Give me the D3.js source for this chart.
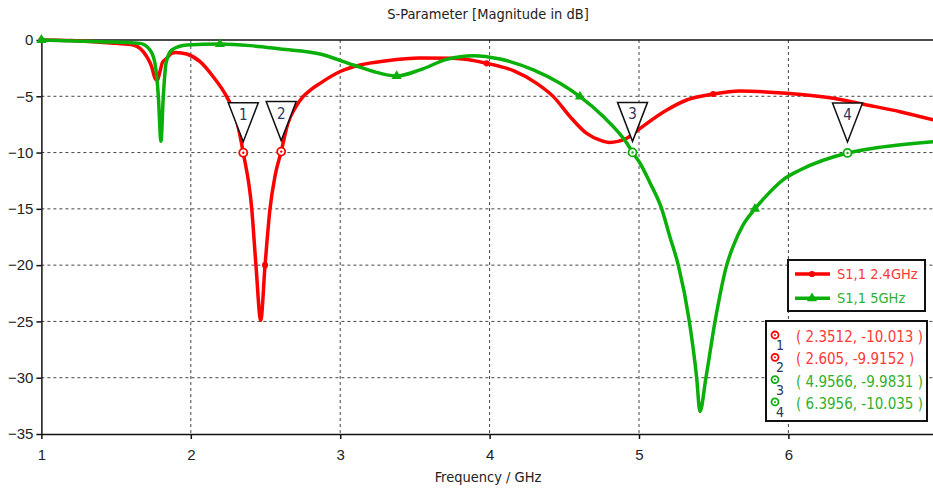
<!DOCTYPE html>
<meta charset="utf-8">
<style>

html, body {
  margin: 0;
  padding: 0;
  background: #fff;
}

svg {
  display: block;
  font-family: Tahoma, "DejaVu Sans Condensed", "DejaVu Sans", sans-serif;
}

.grid line {
  stroke: #444;
  stroke-width: 1px;
  stroke-dasharray: 3,3;
}

.axis path, .axis line {
  stroke: #111;
  stroke-width: 1.5px;
}

.axis text {
  font-size: 15px;
  fill: #222;
}

.curve {
  fill: none;
  stroke-width: 3.5px;
  stroke-linejoin: round;
  stroke-linecap: round;
}

</style>
<svg class="chart"></svg>
<script src="https://d3js.org/d3.v7.min.js"></script>
<script>

var width = 933;
var height = 489;

// S1,1 2.4GHz
var redFreq = [1.0, 1.2, 1.39, 1.5, 1.615, 1.705, 1.738, 1.76, 1.775, 1.79, 1.81, 1.839, 1.87, 1.9, 1.973,
  2.062, 2.15, 2.24, 2.3, 2.351, 2.408, 2.436, 2.468, 2.497, 2.53, 2.565, 2.605, 2.65, 2.7, 2.75, 2.8,
  2.865, 3.0, 3.133, 3.311, 3.534, 3.757, 3.98, 4.159, 4.315, 4.427, 4.538, 4.65, 4.739, 4.8,
  4.918, 5.007, 5.186, 5.319, 5.497, 5.676, 5.988, 6.3, 6.524, 6.747, 6.97];
var redDb = [0, -0.05, -0.2, -0.3, -0.44, -1.48, -2.37, -3.4, -3.6, -3.0, -2.0, -1.63, -1.2, -1.1, -1.24,
  -1.92, -3.26, -5.03, -6.8, -10.013, -15, -20, -24.9, -20, -15, -12, -9.915, -7.4, -6.0, -5.05, -4.45,
  -3.85, -2.8, -2.22, -1.84, -1.6, -1.63, -2.07, -2.73, -3.85, -5.03, -6.8, -8.3, -8.9, -9.1,
  -8.73, -7.85, -6.22, -5.33, -4.8, -4.53, -4.74, -5.18, -5.77, -6.37, -7.1];

// S1,1 5GHz
var greenFreq = [1.0, 1.39, 1.66, 1.727, 1.76, 1.783, 1.8, 1.816, 1.834, 1.872, 1.973, 2.195, 2.4, 2.6,
  2.865, 3.088, 3.25, 3.378, 3.534, 3.713, 3.891, 4.07, 4.293, 4.471, 4.605, 4.761, 4.918, 4.9566,
  5.007, 5.074, 5.152, 5.207, 5.263, 5.337, 5.386, 5.408, 5.448, 5.509, 5.587, 5.631, 5.698, 5.776,
  5.855, 5.966, 6.078, 6.3956, 6.6, 6.97];
var greenDb = [0, -0.15, -0.3, -0.89, -2.07, -5.03, -9.0, -5.0, -2.07, -0.89, -0.44, -0.36, -0.5, -0.8,
  -1.24, -2.22, -2.9, -3.2, -2.66, -1.72, -1.39, -1.69, -2.66, -3.85, -5.03, -6.8, -9.15, -9.98,
  -10.95, -12.7, -15, -17.5, -20, -25, -30, -33, -30, -25, -20, -18.3, -16.4, -15,
  -13.8, -12.4, -11.55, -10.035, -9.55, -9.03];

var redSymbolAt = [1.0, 2.5, 4.0, 5.5];
var greenSymbolAt = [1.0, 2.2, 3.4, 4.6, 5.8];

var markerFreq = [2.3512, 2.605, 4.9566, 6.3956];
var markerDb = [-10.013, -9.9152, -9.9831, -10.035];
var markerText = ['2.3512', '2.605', '4.9566', '6.3956'];
var markerDbText = ['-10.013', '-9.9152', '-9.9831', '-10.035'];
var markerSeries = [0, 0, 1, 1];

var xTicks = [1, 2, 3, 4, 5, 6];
var yTicks = [0, -5, -10, -15, -20, -25, -30, -35];

var seriesNames = ['S1,1 2.4GHz', 'S1,1 5GHz'];
var lineColors = ['#ff0000', '#0aaf0a'];
var textColors = ['#ff3838', '#2fb02f'];
var labelColor = '#2a3560';

var svg = d3.select('svg.chart')
  .attr('width', width)
  .attr('height', height);

svg.append('rect')
  .attr('width', width)
  .attr('height', height)
  .attr('fill', '#fff');

var x = d3.scaleLinear()
  .domain([1, 7])
  .range([41.4, 937.8]);

var y = d3.scaleLinear()
  .domain([-35, 0])
  .range([434, 40]);

// grid
var grid = svg.append('g').attr('class', 'grid');

grid.selectAll('line.v')
    .data(xTicks.slice(1))
  .enter().append('line')
    .attr('class', 'v')
    .attr('x1', function (d) { return x(d); })
    .attr('x2', function (d) { return x(d); })
    .attr('y1', y(0))
    .attr('y2', y(-35));

grid.selectAll('line.h')
    .data(yTicks.slice(1, -1))
  .enter().append('line')
    .attr('class', 'h')
    .attr('x1', x(1))
    .attr('x2', width)
    .attr('y1', function (d) { return y(d); })
    .attr('y2', function (d) { return y(d); });

// axes
svg.append('g')
    .attr('class', 'axis')
    .attr('transform', 'translate(0,' + y(-35) + ')')
    .call(d3.axisBottom(x).tickValues(xTicks).tickSize(5).tickSizeOuter(0).tickFormat(d3.format('d')))
    .call(function (g) { g.selectAll('text').attr('dy', '1.2em'); });

svg.append('g')
    .attr('class', 'axis')
    .attr('transform', 'translate(' + x(1) + ',0)')
    .call(d3.axisLeft(y).tickValues(yTicks).tickSize(5).tickSizeOuter(0).tickFormat(d3.format('d')))
    .call(function (g) { g.selectAll('text').attr('x', -8); });

svg.append('line')
    .attr('x1', x(1))
    .attr('x2', width)
    .attr('y1', y(0))
    .attr('y2', y(0))
    .attr('stroke', '#111')
    .attr('stroke-width', 1.5);

// curves
var line = d3.line()
    .x(function (d) { return x(d[0]); })
    .y(function (d) { return y(d[1]); })
    .curve(d3.curveMonotoneX);

var series = [
  d3.zip(redFreq, redDb),
  d3.zip(greenFreq, greenDb)
];
var symbolAt = [redSymbolAt, greenSymbolAt];

var plot = svg.append('g');

series.forEach(function (s, i) {
  plot.append('path')
      .attr('class', 'curve')
      .attr('stroke', lineColors[i])
      .attr('d', line(s));

  var pts = symbolAt[i].map(function (f) {
    return s.reduce(function (a, b) { return Math.abs(b[0] - f) < Math.abs(a[0] - f) ? b : a; });
  });

  plot.selectAll(null)
      .data(pts)
    .enter().append('path')
      .attr('fill', lineColors[i])
      .attr('transform', function (d) { return 'translate(' + x(d[0]) + ',' + y(d[1]) + ')'; })
      .attr('d', d3.symbol().type(i === 0 ? d3.symbolCircle : d3.symbolTriangle).size(i === 0 ? 30 : 45));
});

// numbered markers
var markers = d3.range(markerFreq.length).map(function (i) {
  return {n: i + 1, f: markerFreq[i], db: markerDb[i], s: markerSeries[i]};
});

var mk = svg.append('g').selectAll('g')
    .data(markers)
  .enter().append('g')
    .attr('transform', function (d) { return 'translate(' + x(d.f) + ',' + y(d.db) + ')'; });

mk.append('path')
    .attr('d', 'M-15,-50L15,-50L0,-11Z')
    .attr('fill', '#fff')
    .attr('stroke', '#111')
    .attr('stroke-width', 1.5);

mk.append('text')
    .attr('y', -33)
    .attr('text-anchor', 'middle')
    .style('font-size', '15px')
    .attr('fill', labelColor)
    .text(function (d) { return d.n; });

mk.append('circle')
    .attr('r', 4)
    .attr('fill', '#fff')
    .attr('stroke', function (d) { return lineColors[d.s]; })
    .attr('stroke-width', 1.8);

mk.append('circle')
    .attr('r', 1.2)
    .attr('fill', function (d) { return lineColors[d.s]; });

// legend
var legend = svg.append('g');

legend.append('rect')
    .attr('x', 788)
    .attr('y', 260)
    .attr('width', 137)
    .attr('height', 51)
    .attr('fill', '#fff')
    .attr('stroke', '#111')
    .attr('stroke-width', 2);

seriesNames.forEach(function (name, i) {
  var ly = 274 + i * 24.3;
  legend.append('line')
      .attr('x1', 795)
      .attr('x2', 830)
      .attr('y1', ly)
      .attr('y2', ly)
      .attr('stroke', lineColors[i])
      .attr('stroke-width', 3.5);
  legend.append('path')
      .attr('transform', 'translate(812,' + ly + ')')
      .attr('fill', lineColors[i])
      .attr('d', d3.symbol().type(i === 0 ? d3.symbolCircle : d3.symbolTriangle).size(i === 0 ? 30 : 45));
  legend.append('text')
      .attr('x', 837)
      .attr('y', ly + 5)
      .style('font-size', '14.5px')
      .attr('fill', textColors[i])
      .text(name);
});

// marker table
var table = svg.append('g');

table.append('rect')
    .attr('x', 766)
    .attr('y', 321)
    .attr('width', 161)
    .attr('height', 100)
    .attr('fill', '#fff')
    .attr('stroke', '#111')
    .attr('stroke-width', 2);

markers.forEach(function (d, i) {
  var ry = 335 + i * 22.3;
  table.append('circle')
      .attr('cx', 775)
      .attr('cy', ry)
      .attr('r', 3.5)
      .attr('fill', '#fff')
      .attr('stroke', lineColors[d.s])
      .attr('stroke-width', 1.8);
  table.append('circle')
      .attr('cx', 775)
      .attr('cy', ry)
      .attr('r', 1)
      .attr('fill', lineColors[d.s]);
  table.append('text')
      .attr('x', 780)
      .attr('y', ry + 15)
      .attr('text-anchor', 'middle')
      .style('font-size', '14px')
      .attr('fill', labelColor)
      .text(d.n);
  table.append('text')
      .attr('x', 796)
      .attr('y', ry + 7)
      .style('font-size', '15px')
      .attr('fill', textColors[d.s])
      .text('( ' + markerText[i] + ', ' + markerDbText[i] + ' )');
});

// titles
svg.append('text')
    .attr('x', 488)
    .attr('y', 19)
    .attr('text-anchor', 'middle')
    .style('font-size', '14.5px')
    .attr('fill', '#222')
    .text('S-Parameter [Magnitude in dB]');

svg.append('text')
    .attr('x', 488)
    .attr('y', 482)
    .attr('text-anchor', 'middle')
    .style('font-size', '14.5px')
    .attr('fill', '#222')
    .text('Frequency / GHz');

</script>
